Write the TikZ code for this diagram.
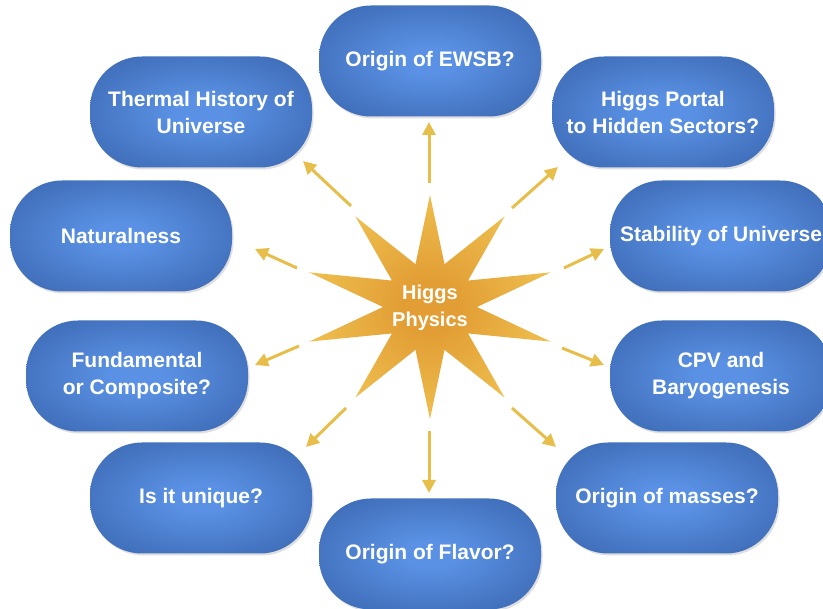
\documentclass[tikz,border=0pt]{standalone}
\usepackage{fontspec}
\setmainfont{Liberation Sans}
\usetikzlibrary{arrows.meta,shadows}
\definecolor{nodein}{RGB}{90,145,228}
\definecolor{nodeout}{RGB}{40,78,146}
\definecolor{starin}{RGB}{226,158,52}
\definecolor{starout}{RGB}{242,202,88}
\definecolor{arrowgold}{RGB}{232,190,74}
\pgfdeclareradialshading{nodeshade}{\pgfpoint{0bp}{0bp}}{color(0bp)=(nodein); color(6bp)=(nodein); color(52bp)=(nodeout); color(75bp)=(nodeout)}
\pgfdeclareradialshading{starshade}{\pgfpoint{0bp}{0bp}}{color(0bp)=(starin); color(6bp)=(starin); color(32bp)=(starout); color(75bp)=(starout)}
\tikzset{
  pill/.style={rounded corners=52pt, minimum width=222pt, minimum height=111pt,
    shading=nodeshade, text=white, align=center, inner sep=0pt,
    font=\bfseries\fontsize{21}{27}\selectfont,
    drop shadow={opacity=0.25, shadow xshift=1.5pt, shadow yshift=-2pt}},
  goldarrow/.style={draw=arrowgold, line width=3pt, -{Triangle[length=13pt,width=13pt]}},
  centertext/.style={text=white, align=center, inner sep=0pt, font=\bfseries\fontsize{20}{27}\selectfont}
}
\begin{document}
\begin{tikzpicture}[x=1pt,y=-1pt]
\useasboundingbox (0,0) rectangle (823,609);
\fill[white] (0,0) rectangle (823,609);
\clip (0,0) rectangle (823,609);

% star
\begin{scope}[shift={(430,307)}]
\shade[shading=starshade] (90:127 and 112)
  \foreach \i [evaluate=\i as \ang using 90+36*\i] in {0,...,9} {
    -- (\ang:127 and 112) -- (\ang+18:47 and 45) } -- cycle;
\end{scope}
\node[centertext] (higgs) at (430,308) {Higgs\\Physics};

% question nodes
\node[pill] (ewsb)    at (430,61)  {Origin of EWSB?};
\node[pill] (thermal) at (201,112) {Thermal History of\\Universe};
\node[pill] (portal)  at (663,112) {Higgs Portal\\to Hidden Sectors?};
\node[pill] (natural) at (121,236) {Naturalness};
\node[pill] (stab)    at (721,236) {Stability of Universe};
\node[pill] (fund)    at (137,376) {Fundamental\\or Composite?};
\node[pill] (cpv)     at (721,376) {CPV and\\Baryogenesis};
\node[pill] (unique)  at (201,498) {Is it unique?};
\node[pill] (masses)  at (667,498) {Origin of masses?};
\node[pill] (flavor)  at (430,554) {Origin of Flavor?};

% arrow end points
\coordinate (t1) at (429,183);  \coordinate (h1) at (429,122);
\coordinate (t2) at (351,206);  \coordinate (h2) at (303,161);
\coordinate (t3) at (512,208);  \coordinate (h3) at (558,167);
\coordinate (t4) at (297,268);  \coordinate (h4) at (255,249);
\coordinate (t5) at (564,268);  \coordinate (h5) at (604,249);
\coordinate (t6) at (299,346);  \coordinate (h6) at (255,365);
\coordinate (t7) at (562,348);  \coordinate (h7) at (604,365);
\coordinate (t8) at (346,408);  \coordinate (h8) at (306,447);
\coordinate (t9) at (512,408);  \coordinate (h9) at (556,447);
\coordinate (t10) at (429,431); \coordinate (h10) at (429,493);

\foreach \k in {1,...,10} { \draw[goldarrow] (t\k) -- (h\k); }
\end{tikzpicture}
\end{document}
